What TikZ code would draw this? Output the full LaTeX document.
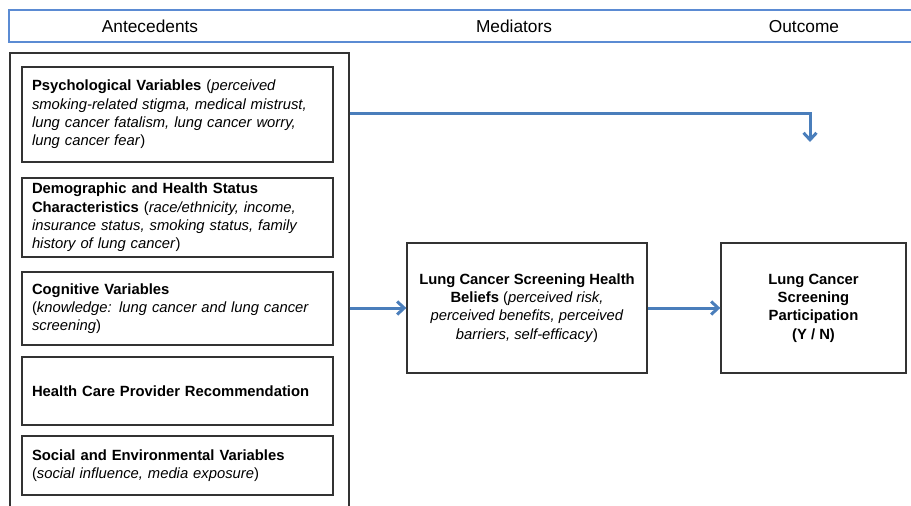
\documentclass[tikz,border=0pt]{standalone}
\usepackage{fontspec}
\setmainfont{Liberation Sans}
\usetikzlibrary{arrows.meta}
\definecolor{hdrblue}{HTML}{5B8BD3}
\definecolor{flowblue}{HTML}{4A7EBB}
\begin{document}
\begin{tikzpicture}[x=1pt,y=-1pt,
  varbox/.style={draw=black!80, line width=1.3pt, text width=291pt, inner xsep=10pt, inner ysep=0pt, align=left, font=\fontsize{14.8}{18.3}\selectfont},
  mainbox/.style={draw=black!80, line width=1.3pt, inner sep=0pt, align=center, font=\fontsize{14.8}{18.3}\selectfont},
  hdrtext/.style={font=\fontsize{17.3}{19}\selectfont, inner sep=0pt},
  flow/.style={draw=flowblue, line width=3pt, -{Straight Barb[length=7pt,width=13pt,line width=3pt]}}]
\useasboundingbox (0,0) rectangle (911,506);
\clip (0,0) rectangle (911,506);

% header bar
\node[draw=hdrblue, line width=2.2pt, minimum width=911pt, minimum height=32pt, inner sep=0pt] (hdr) at (464.5,26) {};
\node[hdrtext] (antlbl) at (150,26.5) {Antecedents};
\node[hdrtext] (medlbl) at (514,26.5) {Mediators};
\node[hdrtext] (outlbl) at (804,26.5) {Outcome};

% antecedents
\node[draw=black!80, line width=1.3pt, minimum width=339pt, minimum height=480pt, inner sep=0pt] (antec) at (179.5,293) {};
\node[varbox, minimum height=95pt] (psy) at (177.5,114.5) {\textbf{Psychological Variables} (\textit{perceived}\\
  \textit{smoking-related stigma, medical mistrust,}\\
  \textit{lung cancer fatalism, lung cancer worry,}\\
  \textit{lung cancer fear})};
\node[varbox, minimum height=79pt] (demo) at (177.5,217.5) {\textbf{Demographic and Health Status}\\
  \textbf{Characteristics} (\textit{race/ethnicity, income,}\\
  \textit{insurance status, smoking status, family}\\
  \textit{history of lung cancer})};
\node[varbox, minimum height=73pt] (cog) at (177.5,308.5) {\textbf{Cognitive Variables}\\
  (\textit{knowledge: lung cancer and lung cancer}\\
  \textit{screening})};
\node[varbox, minimum height=68pt] (hcp) at (177.5,391) {\textbf{Health Care Provider Recommendation}};
\node[varbox, minimum height=59pt] (soc) at (177.5,465.5) {\textbf{Social and Environmental Variables}\\
  (\textit{social influence, media exposure})};

% mediator and outcome
\node[mainbox, minimum width=240pt, minimum height=130pt] (med) at (527,308) {\textbf{Lung Cancer Screening Health}\\
  \textbf{Beliefs} (\textit{perceived risk,}\\
  \textit{perceived benefits, perceived}\\
  \textit{barriers, self-efficacy})};
\node[mainbox, minimum width=185pt, minimum height=130pt] (out) at (813.5,308) {\textbf{Lung Cancer}\\
  \textbf{Screening}\\
  \textbf{Participation}\\
  \textbf{(Y / N)}};

% arrows
\coordinate (psyrow) at ([yshift=1.5pt]psy.east);
\coordinate (psyend) at (810,142);
\draw[flow] (antec.east |- psyrow) -| (psyend);
\draw[flow] (antec.east |- med.west) -- (med.west);
\draw[flow] (med.east) -- (out.west);

\end{tikzpicture}
\end{document}
